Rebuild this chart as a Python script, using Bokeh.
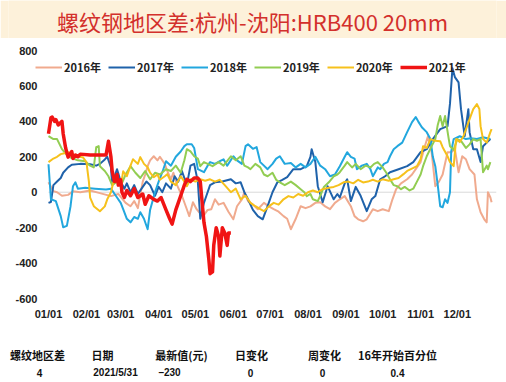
from bokeh.plotting import figure
from bokeh.models import Range1d, FixedTicker, Legend, LegendItem
from bokeh.layouts import column
from bokeh.core.properties import value
from bokeh.embed import file_html
from bokeh.resources import INLINE

# ---------------- data (day of year, spread in yuan) ----------------
title_text = "螺纹钢地区差:杭州-沈阳:HRB400 20mm"
years = ["2016年", "2017年", "2018年", "2019年", "2020年", "2021年"]
month_days = [0, 31, 59, 90, 120, 151, 181, 212, 243, 273, 304, 334]
month_labels = ["01/01", "02/01", "03/01", "04/01", "05/01", "06/01",
                "07/01", "08/01", "09/01", "10/01", "11/01", "12/01"]
y_ticks = [-600, -400, -200, 0, 200, 400, 600, 800]
year_days = 366

days_2016 = [0,4,7,11,16,20,26,34,42,51,57,63,67,70,73,77,79,81,83,86,89,91,95,97,100,102,105,109,113,115,
             118,121,123,127,130,133,136,139,143,147,151,154,158,160,163,167,171,176,180,184,188,192,195,198,202,
             206,210,214,218,222,226,230,234,238,242,247,250,253,257,260,265,269,273,278,281,284,288,293,297,301,
             304,307,310,313,316,319,322,326,329,332,335,338,341,344,348,350,353,356,358,359,361,362]
vals_2016 = [56,6,0,-20,-15,5,0,10,-5,-22,-10,-60,-79,-50,-90,60,100,147,180,203,180,200,160,120,73,110,40,-20,-96,-135,
             -57,-96,-113,-130,-100,-96,-40,-70,-60,-110,-153,-79,-40,0,-50,-70,-96,-60,-80,-96,-110,-135,-150,-209,-150,
             -79,-90,-80,-60,-57,-80,-96,-60,-40,-22,-79,-135,-153,-164,-153,-96,-107,-96,-107,-40,17,50,73,100,140,
             170,250,316,226,34,60,100,226,226,243,113,203,186,130,100,-40,-113,-153,-170,0,-30,-57]

days_2017 = [0,2,4,7,10,12,16,19,26,34,39,42,46,48,51,52,55,56,59,62,64,67,70,73,77,80,83,87,90,93,
             96,100,103,106,109,113,116,119,122,124,127,129,132,136,142,149,153,157,160,163,167,171,175,179,183,
             187,191,195,200,206,211,214,215,218,220,224,228,233,236,238,242,244,247,251,255,260,264,267,271,275,
             279,286,293,298,304,309,314,320,326,328,330,332,335,337,340,343,344,347,350,353,355,358,361]
vals_2017 = [-60,-55,40,60,80,110,140,155,160,158,150,160,185,200,140,45,110,130,60,20,50,0,40,-10,30,60,40,-20,30,0,
             50,20,90,60,120,40,150,160,60,-150,-60,-20,40,56,60,73,50,56,0,-40,-100,-135,-153,-79,0,
             56,70,85,130,130,147,200,243,170,34,-57,34,-40,-10,-30,50,73,-50,30,-20,-107,-40,-22,73,90,
             113,130,147,170,226,243,300,356,373,500,700,650,620,469,316,469,339,243,243,170,260,280,300]

days_2018 = [0,2,6,10,12,15,18,20,22,24,30,38,47,51,55,59,61,64,67,70,73,75,78,81,83,87,90,93,96,100,
             104,108,111,113,117,119,122,127,130,132,136,140,143,146,151,154,158,161,163,167,170,173,176,179,183,
             186,189,193,198,202,206,210,214,218,222,226,230,234,238,242,244,247,250,252,256,260,263,265,269,271,
             274,277,279,282,285,289,293,297,300,302,305,309,312,314,316,318,320,322,324,326,328,329,331,336,341,
             345,350,355,361]
vals_2018 = [158,-40,-50,-135,-198,-190,-79,34,56,20,25,20,15,20,-20,-60,-96,-150,-170,-140,-150,-113,-150,-209,-100,0,60,113,175,150,
             200,230,260,271,271,250,130,113,150,170,160,175,186,150,203,180,160,260,271,245,255,170,150,130,160,
             190,203,160,165,140,160,140,160,200,150,130,90,100,147,200,226,200,190,130,150,160,130,90,140,130,
             160,170,203,243,260,280,339,396,424,400,367,339,300,200,147,40,-79,-85,-40,-60,0,230,300,316,300,
             305,300,310,300]

days_2019 = [0,4,7,11,16,20,24,30,34,37,39,41,42,46,49,52,56,59,63,67,71,75,79,83,87,91,96,100,104,108,
             111,113,116,119,122,124,127,130,134,139,143,149,153,157,160,163,165,169,173,176,179,183,186,189,193,
             198,202,206,209,211,214,216,220,222,225,229,233,236,238,242,244,248,251,255,259,263,266,269,273,276,
             279,282,285,288,291,295,298,301,304,306,309,313,316,318,320,322,324,327,328,331,334,337,341,344,347,
             350,353,355,358,359,361]
vals_2019 = [316,300,300,243,203,190,180,175,150,140,254,260,147,120,90,40,60,34,100,147,110,80,120,73,110,100,130,120,150,110,
             180,243,230,203,190,147,170,160,147,170,150,203,180,203,150,140,130,160,140,100,90,110,70,56,40,
             60,40,17,0,-22,-10,-40,-50,-20,30,56,90,100,113,150,170,140,160,130,150,140,160,170,140,110,
             73,40,34,17,30,10,20,60,100,147,203,260,300,380,430,373,430,300,260,240,300,290,250,270,300,
             290,300,113,150,130,170]

days_2020 = [0,4,7,10,13,16,20,24,28,31,33,34,37,40,42,46,48,51,53,56,59,61,64,67,69,73,75,78,81,83,
             86,89,91,95,97,100,104,108,111,113,116,120,124,128,132,136,140,144,149,153,157,161,165,169,173,
             176,180,184,188,192,196,200,204,208,212,216,220,224,229,233,237,241,245,249,253,257,261,265,269,273,
             278,282,286,290,293,296,299,301,304,306,309,312,316,320,322,326,328,331,333,336,339,342,344,347,350,
             352,353,355,358,361,362]
vals_2020 = [170,190,200,215,220,226,215,200,198,170,60,-30,-79,-96,-107,-80,-40,0,56,73,34,118,90,150,186,160,198,160,141,110,
             85,100,70,90,102,60,40,90,60,34,73,60,73,65,73,60,70,40,0,20,-40,-20,-60,-79,-96,
             -107,-80,-60,-70,-40,-22,-30,-10,-20,0,10,0,17,25,30,40,56,60,50,70,55,60,70,60,73,
             65,73,80,102,120,130,140,147,186,260,250,300,290,288,254,203,170,147,300,283,316,373,413,469,497,
             470,373,300,280,339,356]

days_2021 = [0,2,3,5,6,8,11,12,14,16,19,20,22,24,26,34,42,47,49,51,52,54,56,57,59,60,62,64,67,70,
             73,77,79,82,86,89,92,96,99,101,104,106,109,111,113,116,119,122,124,127,129,131,132,134,135,
             137,139,140,142,144,146,147,149]
vals_2021 = [330,420,424,400,410,380,400,330,250,198,230,190,210,200,215,210,210,210,288,200,120,60,100,40,70,0,-30,10,-20,20,
             -30,-10,-68,-20,-40,-50,-30,-100,-150,-180,-100,-60,0,40,73,60,80,80,60,-170,-250,-380,-460,-450,-300,
             -200,-250,-360,-200,-230,-300,-230,-230]

table_headers = ["螺纹地区差", "日期", "最新值(元)", "日变化", "周变化", "16年开始百分位"]
table_values = ["4", "2021/5/31", "\u2013230", "0", "0", "0.4"]

# ---------------- styling / layout ----------------
series = [(days_2016, vals_2016), (days_2017, vals_2017), (days_2018, vals_2018),
          (days_2019, vals_2019), (days_2020, vals_2020), (days_2021, vals_2021)]
colors = ["#F0AA8E", "#1F62AA", "#22A7DE", "#92CD52", "#F6C11C", "#F01414"]
widths = [2, 2, 2, 2, 2, 3.5]
W = 506
BL, BR = 8, 10                 # frame spans page x 8 .. 496 for chart and table
DATA_LEFT_PX = 40              # day 0 sits 40 px right of the frame's left edge
PLOT_PX = W - BL - BR - DATA_LEFT_PX
x_start = -DATA_LEFT_PX * year_days / PLOT_PX
LABEL_DX = -9                  # y tick labels end 9 days left of Jan 1
VAL_PX = 248                   # pixels spanned by -600 .. 800
Y_PAD_PX = 8                   # extra frame room above/below so end labels are not clipped
y_lo, y_hi = y_ticks[0], y_ticks[-1]
y_pad = Y_PAD_PX * (y_hi - y_lo) / VAL_PX
TICK_FONT = "Liberation Sans"
CJK = "Noto Sans CJK SC"

# title band (own figure, page-pixel coordinates)
t = figure(width=W, height=38, output_backend="svg", toolbar_location=None,
           x_axis_location=None, y_axis_location=None,
           x_range=Range1d(0, W), y_range=Range1d(38, 0), min_border=0,
           min_border_left=0, min_border_right=0, min_border_top=0, min_border_bottom=0,
           background_fill_color="#FDF1DA", border_fill_color="#FDF1DA")
t.grid.visible = False
t.outline_line_color = None
t.text(x=[253], y=[20], text=[title_text], text_font=value(CJK), text_font_size="22px",
       text_color="#D3302C", text_align="center", text_baseline="middle")

# main chart
p = figure(width=W, height=306, output_backend="svg", toolbar_location=None,
           y_axis_location=None,
           x_range=Range1d(x_start, year_days), y_range=Range1d(y_lo - y_pad, y_hi + y_pad),
           min_border_left=BL, min_border_right=BR,
           min_border_top=12 - Y_PAD_PX, min_border_bottom=46 - Y_PAD_PX,
           background_fill_color="white", border_fill_color="white")
p.grid.visible = False
p.outline_line_color = None
# zero baseline across the year
p.line(x=[month_days[0], year_days], y=[0, 0], line_color="#D9D9D9", line_width=1)

items = []
for (d, v), c, w, name in zip(series, colors, widths, years):
    r = p.line(d, v, line_color=c, line_width=w, line_join="round")
    items.append(LegendItem(label=name, renderers=[r]))

# y tick labels drawn as text left of Jan 1
p.text(x=[LABEL_DX] * len(y_ticks), y=y_ticks, text=[str(v) for v in y_ticks],
       text_font=value(TICK_FONT), text_font_size="11px", text_font_style="bold",
       text_color="#222222", text_align="right", text_baseline="middle")

legend = Legend(items=items, orientation="horizontal", location=(27, 223 + Y_PAD_PX),
                padding=0, margin=0, spacing=7, label_standoff=2,
                glyph_width=27, glyph_height=12, label_height=12,
                label_text_font=CJK, label_text_font_size="11px", label_text_font_style="bold",
                label_text_color="#222222", background_fill_alpha=0, border_line_color=None)
p.add_layout(legend)

ax = p.xaxis[0]
ax.axis_line_color = None
ax.major_tick_line_color = None
ax.minor_tick_line_color = None
ax.major_tick_out = 0
ax.major_tick_in = 0
ax.major_label_text_font = TICK_FONT
ax.major_label_text_font_size = "11px"
ax.major_label_text_font_style = "bold"
ax.major_label_text_color = "#222222"
ax.ticker = FixedTicker(ticks=month_days)
ax.major_label_overrides = {d: l for d, l in zip(month_days, month_labels)}
ax.major_label_standoff = 9 - Y_PAD_PX

# summary table (page-pixel coordinates, frame aligned with the chart's frame)
tb = figure(width=W, height=38, output_backend="svg", toolbar_location=None,
            x_axis_location=None, y_axis_location=None,
            x_range=Range1d(BL, W - BR), y_range=Range1d(382, 344),
            min_border_left=BL, min_border_right=BR, min_border_top=0, min_border_bottom=0,
            background_fill_color="white", border_fill_color="white")
tb.grid.visible = False
tb.outline_line_color = None
head_x = [37, 102, 181, 251, 324, 397]
val_x = [39, 115, 169, 250, 322, 397]
tb.text(x=head_x, y=[354] * 6, text=table_headers, text_font=value(CJK), text_font_size="11px",
        text_font_style="bold", text_color="#111111", text_align="center", text_baseline="middle")
tb.text(x=val_x, y=[372] * 6, text=table_values, text_font=value(TICK_FONT), text_font_size="10px",
        text_font_style="bold", text_color="#111111", text_align="center", text_baseline="middle")

layout = column(t, p, tb, spacing=0)
open("out.html", "w").write(file_html(layout, INLINE))
